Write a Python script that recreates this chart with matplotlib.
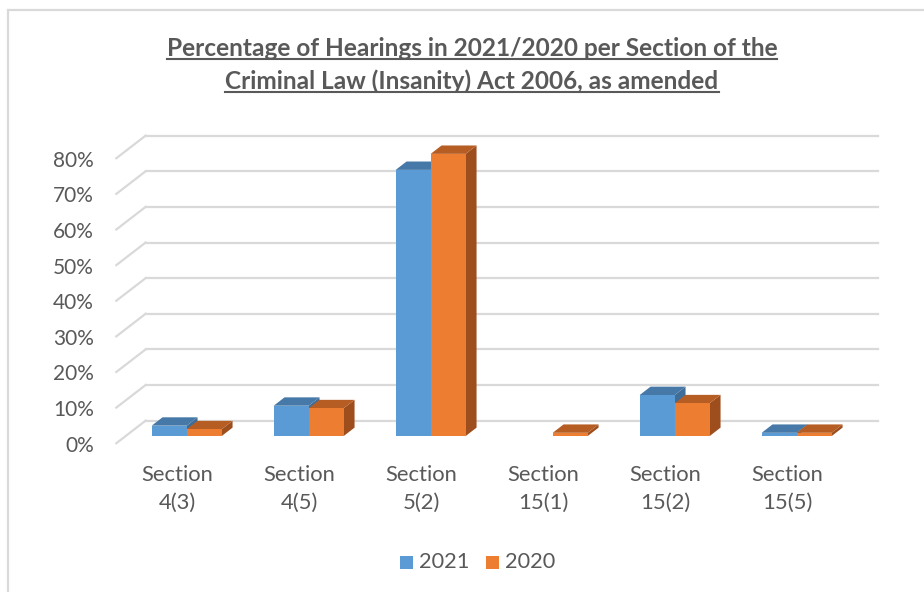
import matplotlib
matplotlib.use("Agg")
import matplotlib.pyplot as plt
from matplotlib.patches import Polygon, Rectangle
from matplotlib.lines import Line2D

# ---- data ----
categories = ["Section\n4(3)", "Section\n4(5)", "Section\n5(2)",
              "Section\n15(1)", "Section\n15(2)", "Section\n15(5)"]
series_names = ["2021", "2020"]
values_2021 = [2.9, 8.5, 74.7, 0.0, 11.5, 0.9]
values_2020 = [1.9, 7.8, 79.2, 0.9, 9.2, 0.9]
y_ticks = [0, 10, 20, 30, 40, 50, 60, 70, 80]
y_tick_labels = ["0%", "10%", "20%", "30%", "40%", "50%", "60%", "70%", "80%"]
title_lines = ["Percentage of Hearings in 2021/2020 per Section of the",
               "Criminal Law (Insanity) Act 2006, as amended"]

# ---- style ----
FONT = "Lato"
TXT = "#595959"
GRID = "#d9d9d9"
front_cols = ["#5b9bd5", "#ed7d31"]
top_cols = ["#4679a8", "#b65d23"]
side_cols = ["#3f6d98", "#9e4e1d"]

W, H = 924, 592
fig = plt.figure(figsize=(W / 100, H / 100), dpi=100)
ax = fig.add_axes([0, 0, 1, 1])
# map: category unit = 122 px, 1 % = 3.5625 px, bar front plane base at (186.7, 436)
PX_X, PX_Y = 122.0, 3.5625
X0, Y0 = 186.7, 436.0
ax.set_xlim((0 - X0) / PX_X, (W - X0) / PX_X)
ax.set_ylim((Y0 - H) / PX_Y, Y0 / PX_Y)
ax.axis("off")

# depth geometry (full floor depth), bar front/back depth fractions
DX, DY = 29.3 / PX_X, 22.6 / PX_Y
F0, F1 = 0.32, 0.69
n = len(categories)

def off(f):
    return (f - F0) * DX, (f - F0) * DY

# chart border
bx0 = (8 - X0) / PX_X
by0 = (Y0 - 10) / PX_Y
ax.add_patch(Rectangle((bx0, (Y0 - H - 20) / PX_Y), 20, by0 - (Y0 - H - 20) / PX_Y,
                       fill=False, ec=GRID, lw=1.6, zorder=0))

# gridlines: back wall + left floor diagonal
bxo, byo = off(1.0)
fxo, fyo = off(0.0)
left, right = -0.5, n - 0.5
for v in y_ticks:
    ax.add_line(Line2D([left + bxo, right + bxo], [v + byo, v + byo],
                       color=GRID, lw=1.6, zorder=1))
    ax.add_line(Line2D([left + fxo, left + bxo], [v + fyo, v + byo],
                       color=GRID, lw=1.6, zorder=1))
for v, lab in zip(y_ticks, y_tick_labels):
    ax.text(left + fxo - 0.185, v + fyo - 0.7, lab, ha="right", va="center",
            fontsize=15, color=TXT, family=FONT)

# bars
bw = 0.287
dxb, dyb = off(F1)
for i in range(n):
    for s, vals in enumerate([values_2021, values_2020]):
        v = vals[i]
        if v <= 0:
            continue
        x0 = i - bw if s == 0 else i
        x1 = x0 + bw
        z = 3 + i * 3 + s
        ax.add_patch(Polygon([(x1, 0), (x1 + dxb, dyb), (x1 + dxb, v + dyb), (x1, v)],
                             closed=True, fc=side_cols[s], ec="none", zorder=z))
        ax.add_patch(Polygon([(x0, v), (x0 + dxb, v + dyb), (x1 + dxb, v + dyb), (x1, v)],
                             closed=True, fc=top_cols[s], ec="none", zorder=z))
        ax.bar(x0 + bw / 2, v, width=bw, bottom=0, color=front_cols[s],
               linewidth=0, zorder=z + 0.5)

# category labels
for i, c in enumerate(categories):
    ax.text(i + fxo, (Y0 - 465) / PX_Y, c, ha="center", va="top",
            fontsize=15.8, color=TXT, family=FONT, linespacing=1.5)

# legend
leg_y = (Y0 - 562) / PX_Y
sq = 13 / PX_X
for s, (name, xs) in enumerate(zip(series_names, [400, 486])):
    xl = (xs - X0) / PX_X
    ax.add_patch(Rectangle((xl, leg_y - 6.5 / PX_Y), sq, 13 / PX_Y,
                           fc=front_cols[s], ec="none"))
    ax.text(xl + 19 / PX_X, leg_y, name, ha="left", va="center",
            fontsize=15.7, color=TXT, family=FONT)

# title with underline
title_texts = []
for k, line in enumerate(title_lines):
    t = ax.text((472 - X0) / PX_X, (Y0 - (49 + 32 * k)) / PX_Y, line,
                ha="center", va="center", fontsize=17.6, fontweight="bold",
                color=TXT, family=FONT)
    title_texts.append(t)
fig.canvas.draw()
r = fig.canvas.get_renderer()
inv = ax.transData.inverted()
for t in title_texts:
    bb = t.get_window_extent(r)
    (ax0_, ay0_), (ax1_, _) = inv.transform([(bb.x0, bb.y0), (bb.x1, bb.y1)])
    ax.add_line(Line2D([ax0_, ax1_], [ay0_ + 0.3, ay0_ + 0.3], color=TXT, lw=1.5))

fig.savefig("out.png", dpi=100)
